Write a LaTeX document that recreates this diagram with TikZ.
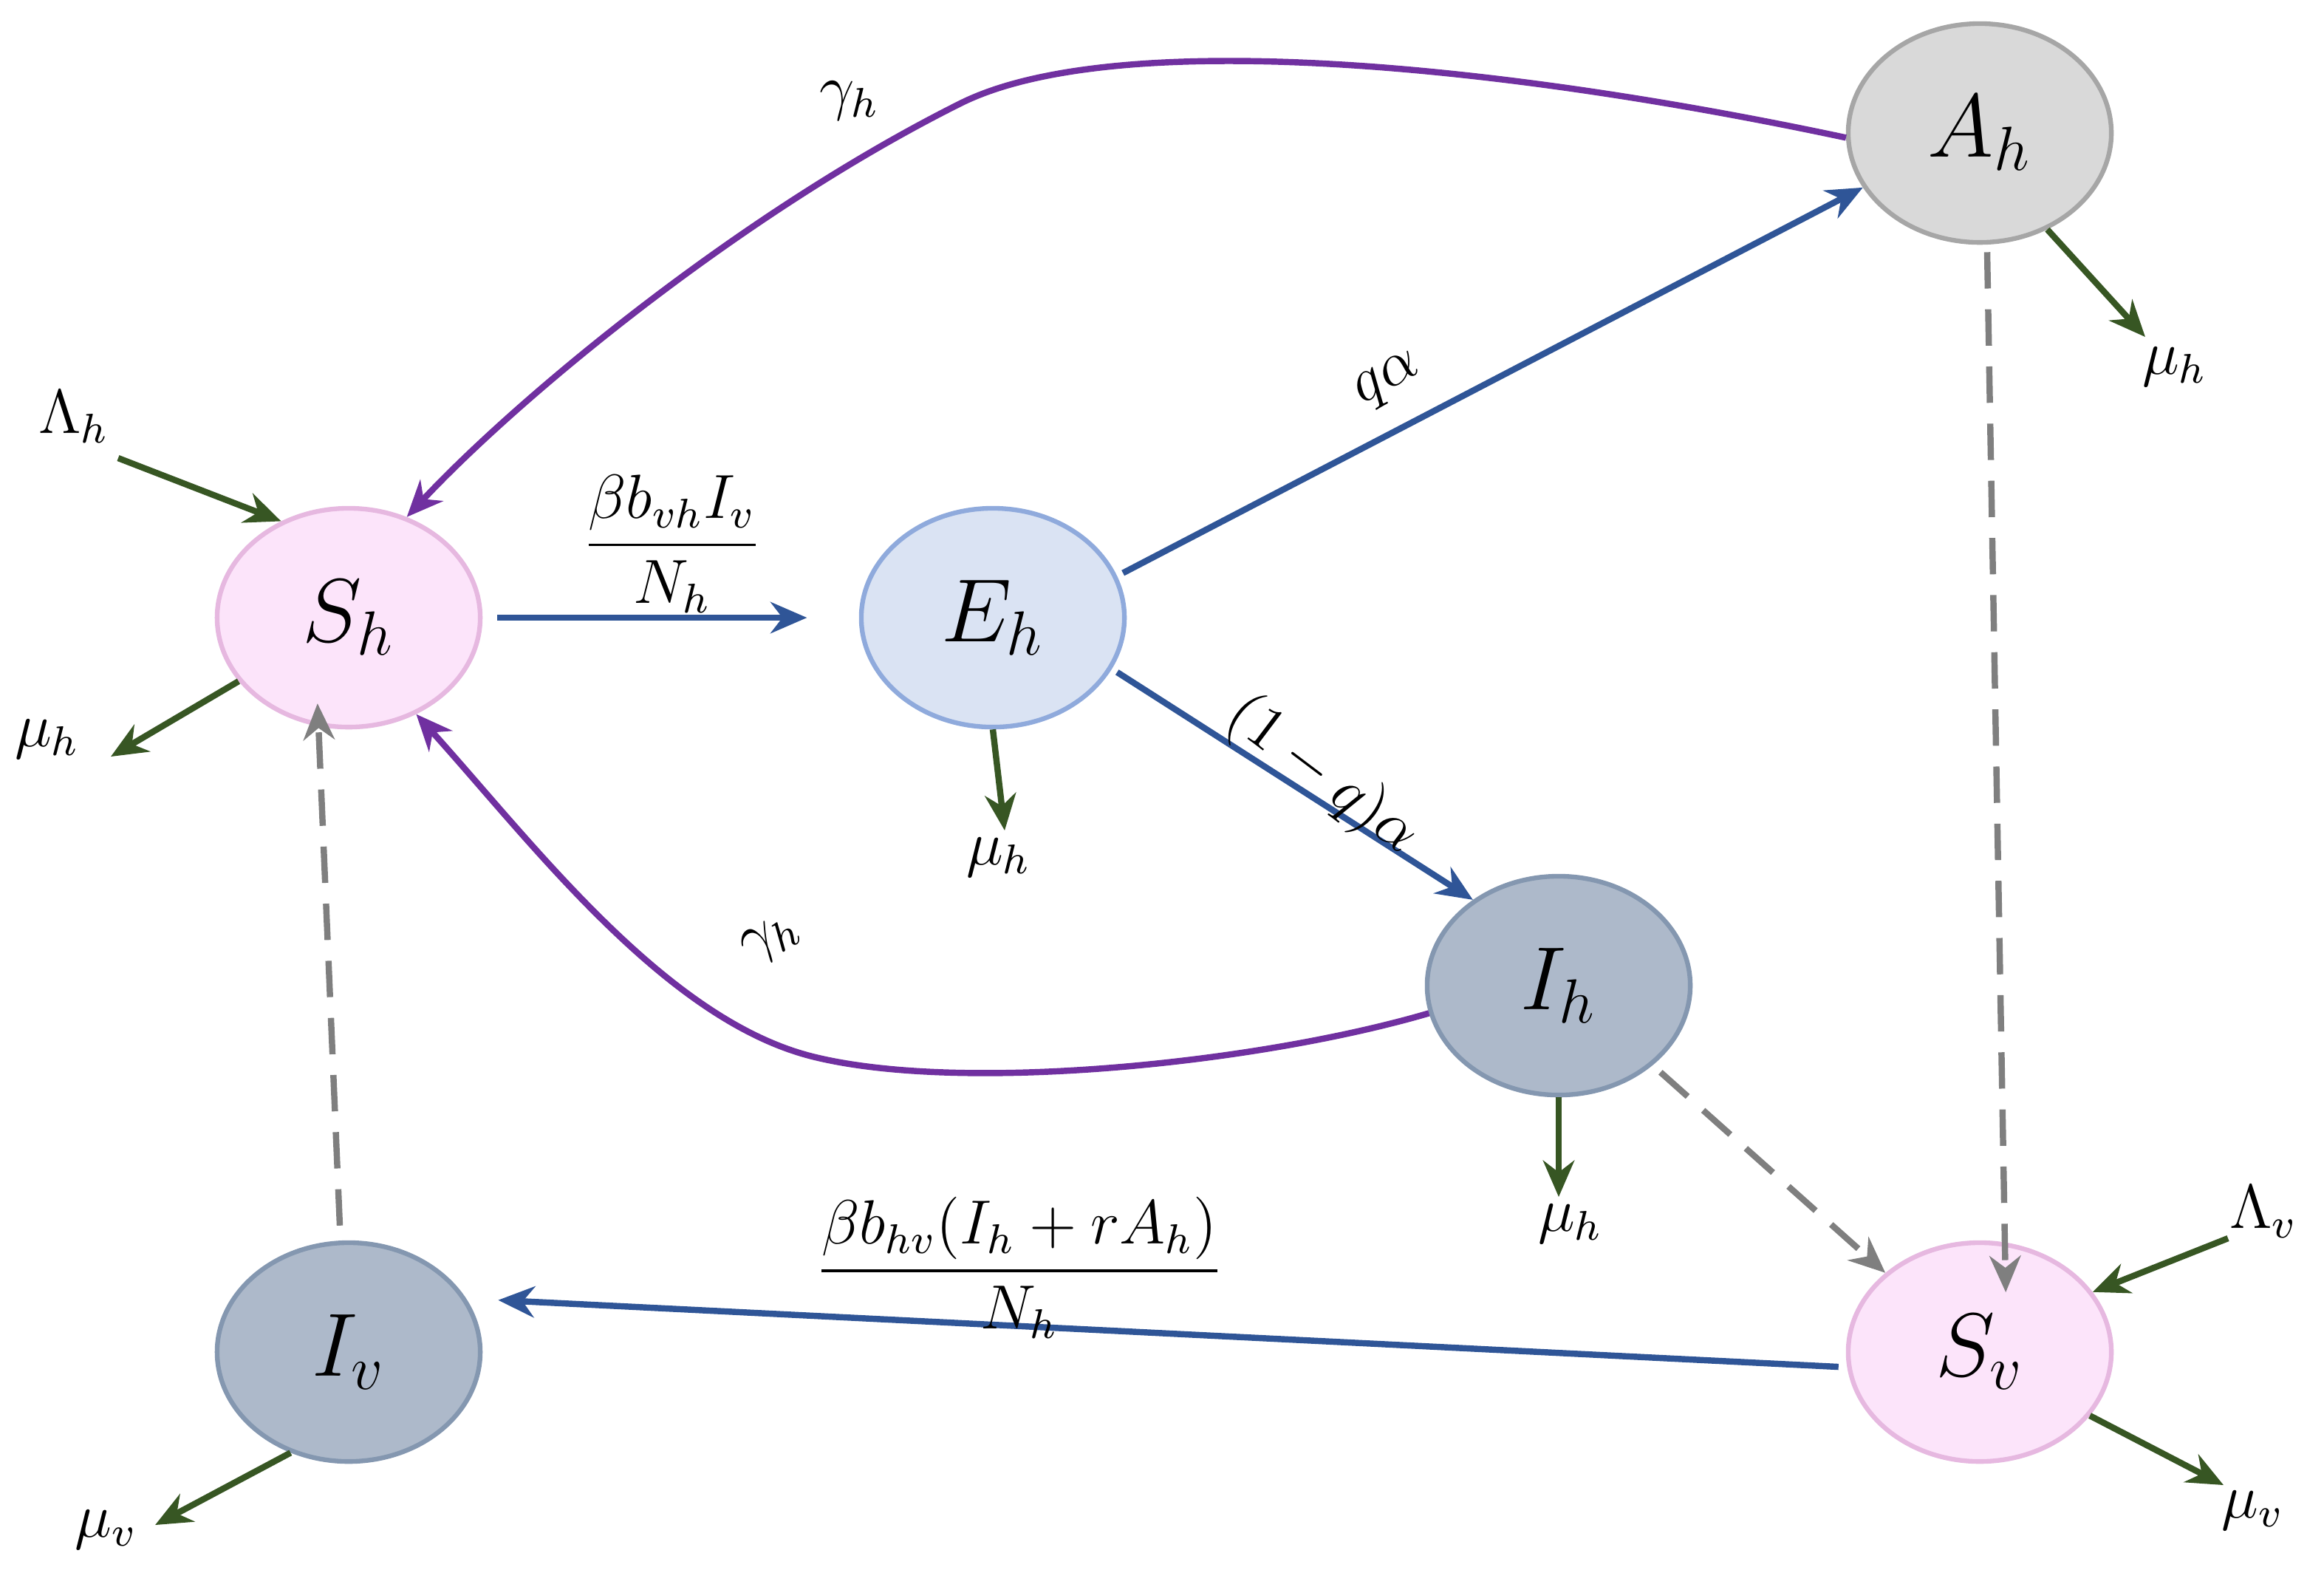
\documentclass[tikz,border=0pt]{standalone}
\usepackage{amsmath}
\usetikzlibrary{shapes.geometric,arrows.meta}
\definecolor{pinkf}{HTML}{FCE4FA}\definecolor{pinkd}{HTML}{E6B8E0}
\definecolor{bluef}{HTML}{DAE3F3}\definecolor{blued}{HTML}{8FAADC}
\definecolor{grayf}{HTML}{D9D9D9}\definecolor{grayd}{HTML}{A6A6A6}
\definecolor{slatef}{HTML}{ADB9CA}\definecolor{slated}{HTML}{8497B0}
\definecolor{flowc}{HTML}{2F5597}\definecolor{purp}{HTML}{7030A0}
\definecolor{grn}{HTML}{375623}\definecolor{dashc}{HTML}{7F7F7F}
\tikzset{
 comp/.style={ellipse,minimum width=1.78cm,minimum height=1.48cm,line width=0.9pt,font=\LARGE},
 pinkc/.style={comp,fill=pinkf,draw=pinkd},
 bluec/.style={comp,fill=bluef,draw=blued},
 grayc/.style={comp,fill=grayf,draw=grayd},
 slatec/.style={comp,fill=slatef,draw=slated},
 fl/.style={draw=flowc,line width=1.2pt,-{Stealth[length=7pt,width=6pt]}},
 pu/.style={draw=purp,line width=1.2pt,-{Stealth[length=7pt,width=6pt]}},
 gr/.style={draw=grn,line width=1.2pt,-{Stealth[length=7pt,width=6pt]}},
 da/.style={draw=dashc,line width=1.2pt,dash pattern=on 7pt off 4pt,-{Stealth[length=7pt,width=6pt]}},
 lb/.style={font=\large,inner sep=1pt}
}
\begin{document}
\begin{tikzpicture}[x=0.01cm,y=-0.01cm]
\useasboundingbox (0,0) rectangle (1573,1062);
\node[pinkc] (Sh) at (236,418) {$S_h$};
\node[bluec] (Eh) at (672,418) {$E_h$};
\node[grayc] (Ah) at (1340,90) {$A_h$};
\node[slatec] (Ih) at (1055,667) {$I_h$};
\node[slatec] (Iv) at (236,915) {$I_v$};
\node[pinkc] (Sv) at (1340,915) {$S_v$};
% flows
\draw[fl] (Sh.east)++(10,0) coordinate (a1) -- ([xshift=-10]Eh.west);
\node[lb] (f1) at (455,368) {$\dfrac{\beta b_{vh} I_v}{N_h}$};
\draw[fl] (Eh.20) ++(5,0) coordinate (a2) -- (Ah.205);
\node[lb,rotate=30] (qa) at (940,258) {$q\alpha$};
\draw[fl] (Eh.-25) ++(5,0) coordinate (a3) -- (Ih.135);
\node[lb,rotate=-37] (qq) at (895,525) {$(1-q)\alpha$};
\draw[fl] (Sv.west) ++(-5,10) coordinate (a4) -- ([xshift=3,yshift=10]Iv.east);
\node[lb] (f2) at (690,858) {$\dfrac{\beta b_{hv}(I_h + rA_h)}{N_h}$};
% purple recoveries
\draw[pu] (Ah.182) .. controls (1000,40) and (750,20) .. (650,70) .. controls (500,145) and (350,270) .. (Sh.60);
\node[lb] (g1) at (575,68) {$\gamma_h$};
\draw[pu] (Ih.192) .. controls (850,720) and (650,740) .. (550,715) .. controls (450,690) and (360,570) .. (Sh.-55);
\node[lb,rotate=30] (g2) at (522,636) {$\gamma_h$};
% dashed
\draw[da] (Iv.north) ++(-6,-10) coordinate (d1) -- ([xshift=-6,yshift=5]Sh.south);
\draw[da] (Ah.south) ++(5,5) coordinate (d2) -- ([xshift=5,yshift=-10]Sv.north);
\draw[da] (Ih.-40) ++(5,5) coordinate (d3) -- (Sv.140);
% green
\coordinate (lh) at (80,310); \node[lb] (Lh) at (50,282) {$\Lambda_h$};
\draw[gr] (lh) -- (Sh.125);
\coordinate (m1) at (75,512); \node[lb] (M1) at (32,500) {$\mu_h$};
\draw[gr] (Sh.-150) -- (m1);
\coordinate (m2) at (680,562); \node[lb] (M2) at (676,580) {$\mu_h$};
\draw[gr] (Eh.south) -- (m2);
\coordinate (m3) at (1452,228); \node[lb] (M3) at (1472,248) {$\mu_h$};
\draw[gr] (Ah.-55) -- (m3);
\coordinate (m4) at (1055,810); \node[lb] (M4) at (1063,828) {$\mu_h$};
\draw[gr] (Ih.south) -- (m4);
\coordinate (lv) at (1508,838); \node[lb] (Lv) at (1532,820) {$\Lambda_v$};
\draw[gr] (lv) -- (Sv.28);
\coordinate (m5) at (1505,1005); \node[lb] (M5) at (1525,1022) {$\mu_v$};
\draw[gr] (Sv.-30) -- (m5);
\coordinate (m6) at (105,1032); \node[lb] (M6) at (72,1035) {$\mu_v$};
\draw[gr] (Iv.-120) -- (m6);
\end{tikzpicture}
\end{document}
